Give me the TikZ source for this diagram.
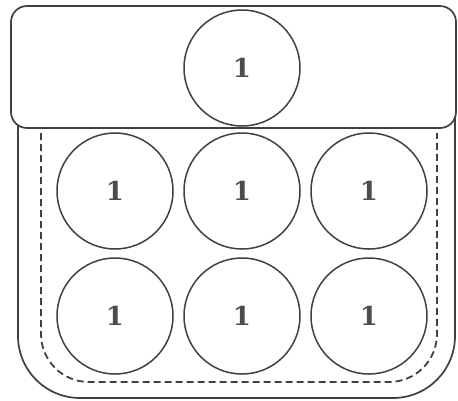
\documentclass[tikz,border=0pt]{standalone}
\usepackage{amssymb}
\usepackage{mathtools}
\usepackage{color}
\usepackage{fontspec}
\newfontfamily\podfont{DejaVu Serif}

\begin{document}
\begin{tikzpicture}[x=1pt,y=-1pt,line width=1.7pt,
        pod/.style={shape=circle,draw=black!75,line width=1.5pt,minimum size=116pt,inner sep=0pt,
            font=\podfont\fontsize{26}{28}\selectfont\bfseries,text=black!70}]
        \useasboundingbox (0,0) rectangle (458,400);

        \draw[black!75,rounded corners=62pt] (18,110) -- (18,398) -- (455,398) -- (455,110);
        \draw[black!75,dash pattern=on 7pt off 4pt,line width=1.8pt,rounded corners=48pt]
            (41,133) -- (41,382) -- (437,382) -- (437,133);
        \draw[black!75,fill=white,rounded corners=16pt] (11,6) rectangle (456,128);

        \node[pod] (A) at (242,68) {1};
        \node[pod] (B) at (115,191) {1};
        \node[pod] (C) at (242,191) {1};
        \node[pod] (D) at (369,191) {1};
        \node[pod] (E) at (115,316) {1};
        \node[pod] (F) at (242,316) {1};
        \node[pod] (G) at (369,316) {1};
    \end{tikzpicture}
\end{document}
